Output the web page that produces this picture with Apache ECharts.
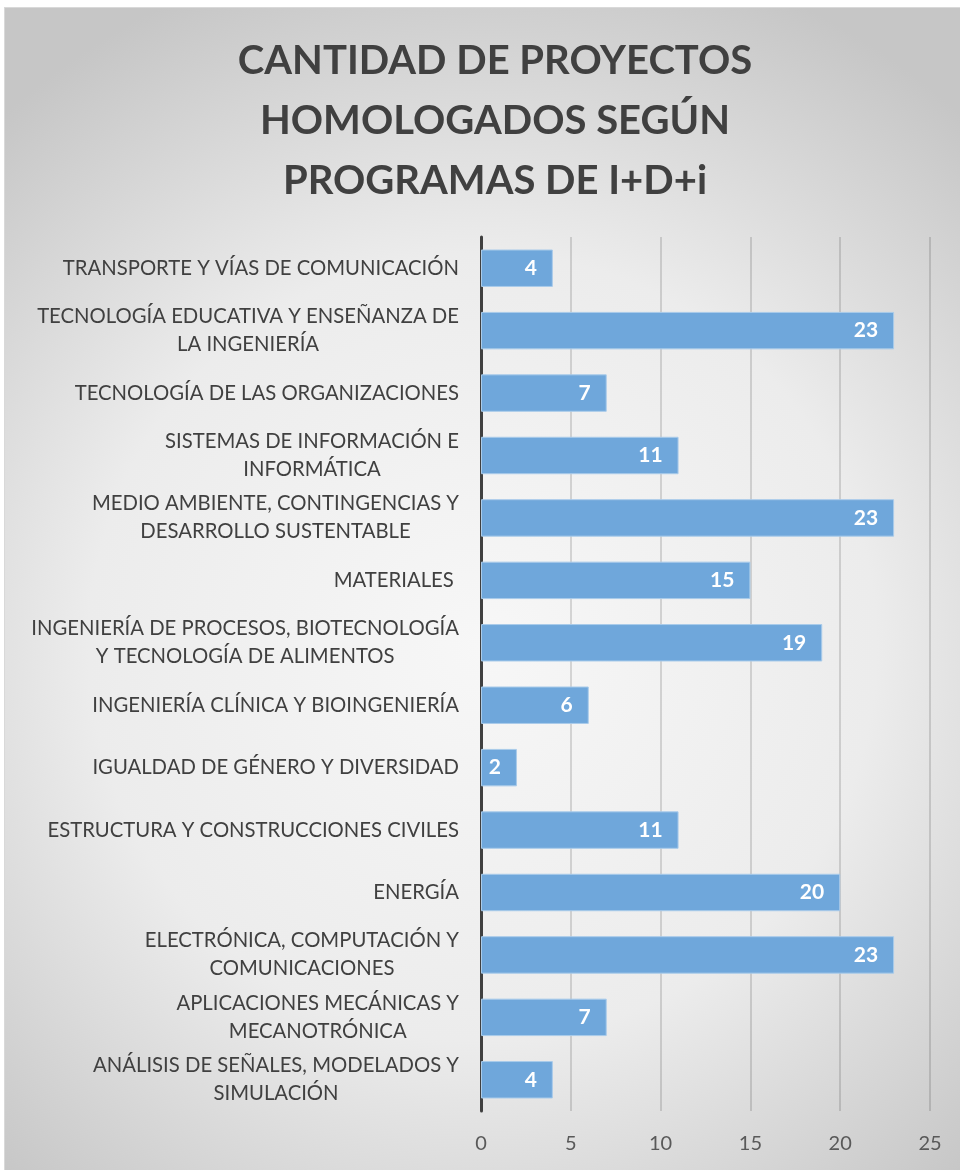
<!DOCTYPE html>
<html><head><meta charset="utf-8">
<script src="https://cdn.jsdelivr.net/npm/echarts@6/dist/echarts.min.js"></script>
<style>
html,body{margin:0;padding:0;background:#fff;width:960px;height:1170px;overflow:hidden}
#c{position:absolute;left:4px;top:7px;width:955px;height:1162px;border-left:1px solid #d9d9d9;border-top:1px solid #d9d9d9}
</style></head>
<body><div id="c"></div>
<script>
const titleText = 'CANTIDAD DE PROYECTOS\nHOMOLOGADOS SEGÚN\nPROGRAMAS DE I+D+i';
// bottom-to-top order
const categories = [
  'ANÁLISIS DE SEÑALES, MODELADOS Y\nSIMULACIÓN',
  'APLICACIONES MECÁNICAS Y\nMECANOTRÓNICA',
  'ELECTRÓNICA, COMPUTACIÓN Y\nCOMUNICACIONES',
  'ENERGÍA',
  'ESTRUCTURA Y CONSTRUCCIONES CIVILES',
  'IGUALDAD DE GÉNERO Y DIVERSIDAD',
  'INGENIERÍA CLÍNICA Y BIOINGENIERÍA',
  'INGENIERÍA DE PROCESOS, BIOTECNOLOGÍA\nY TECNOLOGÍA DE ALIMENTOS',
  'MATERIALES ',
  'MEDIO AMBIENTE, CONTINGENCIAS Y\nDESARROLLO SUSTENTABLE',
  'SISTEMAS DE INFORMACIÓN E\nINFORMÁTICA',
  'TECNOLOGÍA DE LAS ORGANIZACIONES',
  'TECNOLOGÍA EDUCATIVA Y ENSEÑANZA DE\nLA INGENIERÍA',
  'TRANSPORTE Y VÍAS DE COMUNICACIÓN'
];
const values = [4, 7, 23, 20, 11, 2, 6, 19, 15, 23, 11, 7, 23, 4];
const xTicks = [0, 5, 10, 15, 20, 25];

const chart = echarts.init(document.getElementById('c'), null, {renderer:'canvas'});
const font = 'Lato, "Open Sans", sans-serif';
chart.setOption({
  animation:false,
  backgroundColor:{type:'radial', x:0.5, y:0.55, r:0.75,
    colorStops:[{offset:0,color:'#f7f7f7'},{offset:0.55,color:'#ececec'},{offset:1,color:'#c6c6c6'}]},
  title:{
    text:titleText, left:485, top:18, textAlign:'center',
    textStyle:{fontFamily:font, fontWeight:'bold', fontSize:40, lineHeight:60, color:'#404040'}
  },
  grid:{left:476, right:30, top:229, height:874, containLabel:false},
  xAxis:{
    type:'value', min:xTicks[0], max:xTicks[xTicks.length-1], interval:5,
    axisLine:{show:false}, axisTick:{show:false},
    axisLabel:{fontFamily:font, fontSize:20, color:'#595959', margin:23},
    splitLine:{lineStyle:{color:'rgba(0,0,0,0.18)', width:1.5}}
  },
  yAxis:{
    type:'category', data:categories,
    axisLine:{show:true, lineStyle:{color:'#404040', width:3}},
    axisTick:{show:false},
    axisLabel:{
      margin:22, align:'right',
      formatter:function(v){ return v.split('\n').map(function(s){return '{c|'+s+'}';}).join('\n'); },
      rich:{c:{fontFamily:font, fontSize:20.3, color:'#404040', lineHeight:28, align:'center'}}
    }
  },
  series:[{
    type:'bar', data:values, barWidth:'60%',
    itemStyle:{color:'#6fa7db', borderColor:'#a9cbea', borderWidth:1},
    label:{show:true, position:'insideRight', distance:16, color:'#fff',
      fontFamily:font, fontWeight:'bold', fontSize:21}
  }]
});
</script></body></html>
